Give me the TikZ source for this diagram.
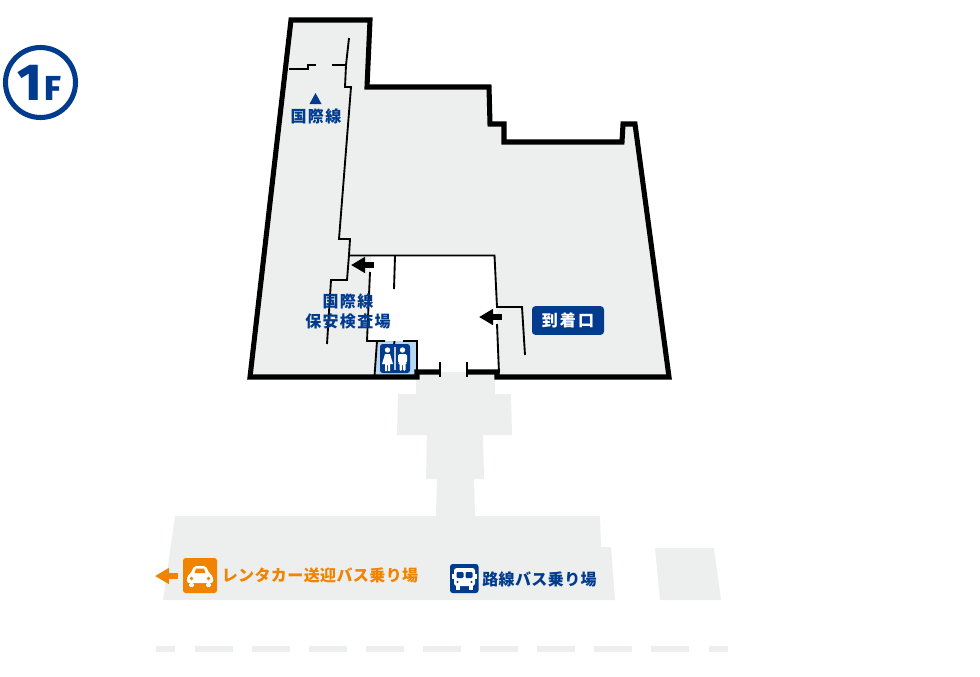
\documentclass[tikz,border=0pt]{standalone}
\usepackage{fontspec}
\usepackage{xcolor}
\usetikzlibrary{arrows.meta, positioning}
\newfontfamily\jpfont[LetterSpace=8]{Noto Sans CJK JP}
\newfontfamily\jpwide[LetterSpace=13]{Noto Sans CJK JP}
\newfontfamily\jptight[LetterSpace=2.5]{Noto Sans CJK JP}
\newfontfamily\numfont{Fira Sans ExtraBold}
\definecolor{floorgray}{HTML}{EDEFEF}
\definecolor{mapblue}{HTML}{003B8E}
\definecolor{maporange}{HTML}{F08300}
\definecolor{wcblue}{HTML}{B7D8F0}
\tikzset{
  wall/.style={line width=3.8pt, line join=miter, black},
  thin wall/.style={line width=1.4pt, black},
  gate/.style={line width=1.4pt, black},
  ground/.style={fill=floorgray, draw=none},
  goarrow/.style={line width=3.9pt, black, -{Triangle[length=10.5pt, width=11.5pt]}},
  jplabel/.style={font=\jpfont\fontsize{12}{15}\selectfont\bfseries, text=mapblue, align=center, inner sep=0pt},
  jpline/.style={font=\jptight\fontsize{12}{15}\selectfont\bfseries, text=mapblue, inner sep=0pt, anchor=west},
  iconbox/.style={rounded corners=2pt, fill=mapblue, draw=none}
}
\begin{document}
\begin{tikzpicture}[x=0.75pt, y=-0.75pt]
  \useasboundingbox (0,0) rectangle (980,676);

  % Sol
  \fill[ground] (291,20) -- (370,20) -- (367,87) -- (489,87) -- (490,124) -- (504,124) -- (504,142)
    -- (622,142) -- (623,124) -- (635,124) -- (669,377) -- (250,377) -- cycle;
  \fill[white] (371,256) -- (495,256) -- (498,372) -- (417,372) -- (417,341) -- (367,341) -- cycle;
  \fill[ground] (416,372) -- (495,372) -- (495,394) -- (511,394) -- (512,435) -- (483,435) -- (484,479)
    -- (474,479) -- (475,516) -- (600,516) -- (601,547) -- (611,547) -- (615,600) -- (163,600)
    -- (175,516) -- (436,516) -- (437,479) -- (426,479) -- (427,435) -- (397,435) -- (398,394)
    -- (416,394) -- cycle;
  \fill[ground] (655,548) -- (714,548) -- (721,600) -- (660,600) -- cycle;
  \fill[white] (250,379.5) rectangle (416,394);
  \fill[white] (496,379.5) rectangle (670,394);

  % Bandes
  \foreach \xa/\xb in {156/175,195/233,252/290,309/347,366/404,423/461,480/518,537/575,594/632,651/689,709/728}
    \fill[ground] (\xa,646) rectangle (\xb,652);

  % Toilettes
  \fill[wcblue] (378,341) -- (417,341) -- (417,376) -- (375,376) -- cycle;

  % Cloisons
  \draw[thin wall] (349,38) -- (346,65) -- (345,87) -- (351,87) -- (339,239) -- (350,239) -- (349,255)
    -- (347,280) -- (331,280) -- (327,344);
  \draw[thin wall] (289,69) -- (308,69) -- (308,65) -- (316,65);
  \draw[thin wall] (332,65) -- (346,65);
  \draw[thin wall] (349,255.5) -- (494.5,255.5) -- (497,307) -- (522,307) -- (525,355);
  \draw[thin wall] (395,256) -- (394,289);
  \draw[thin wall] (370,272) -- (367,341) -- (385,341);
  \draw[thin wall] (403,341) -- (417,341) -- (417,372);
  \draw[thin wall] (377,341) -- (374.5,376);
  \draw[thin wall] (394.5,341) -- (394,345);
  \draw[thin wall] (497,324) -- (499,373);

  % Murs
  \draw[wall] (440,372) -- (417,372) -- (417,377) -- (250,377) -- (291,20) -- (370,20) -- (367,87)
    -- (489,87) -- (490,124) -- (504,124) -- (504,142) -- (622,142) -- (623,124) -- (635,124)
    -- (669,377) -- (497,377) -- (497,372) -- (467,372);
  \draw[gate] (440,362) -- (440,377);
  \draw[gate] (467,362) -- (467,377);

  % Sens de circulation
  \coordinate (hallA) at (374,265);
  \coordinate (hallB) at (351,265);
  \coordinate (arrivalA) at (502,317);
  \coordinate (arrivalB) at (479,317);
  \draw[goarrow] (hallA) -- (hallB);
  \draw[goarrow] (arrivalA) -- (arrivalB);
  \coordinate (rentA) at (178,576);
  \coordinate (rentB) at (155,576);
  \draw[goarrow, maporange] (rentA) -- (rentB);

  % Etage
  \node[circle, draw=mapblue, line width=3.8pt, minimum size=52.5pt, inner sep=0pt] (floor) at (40.5,82.5) {};
  \node[font=\numfont\fontsize{39}{39}\selectfont, text=mapblue, inner sep=0pt, anchor=base] (floorN) at (30,100) {1};
  \node[font=\numfont\fontsize{26}{26}\selectfont, text=mapblue, inner sep=0pt, anchor=base] (floorF) at (53,100) {F};

  % Etiquettes
  \fill[mapblue] (315.5,93) -- (321.5,104) -- (309.5,104) -- cycle;
  \node[jplabel] (intl) at (316,116) {国際線};
  \node[jplabel] (security) at (348,311.5) {国際線\\保安検査場};
  \node[fill=mapblue, rounded corners=2.5pt, minimum width=54pt, minimum height=21.5pt, inner sep=0pt,
    font=\jpwide\fontsize{12}{15}\selectfont\bfseries, text=white] (arrival) at (568,320.5) {到着口};
  \node[jpline, text=maporange] (rentcar) at (221.5,575) {レンタカー送迎バス乗り場};
  \node[jpline] (busstop) at (482,579) {路線バス乗り場};

  % Pictogramme toilettes
  \fill[iconbox] (380,344) rectangle (410,373);
  \draw[white!75!mapblue, line width=0.9pt] (395,347) -- (395,370);
  \fill[white] (387.5,350) circle (2.7);
  \fill[white] (385,354) -- (390,354) -- (393,364) -- (390,364) -- (390,371) -- (388,371) -- (388,365)
    -- (387,365) -- (387,371) -- (385,371) -- (385,364) -- (382,364) -- cycle;
  \fill[white] (402.5,350) circle (2.7);
  \fill[white, rounded corners=1pt] (398,354) -- (407,354) -- (407,363) -- (405.5,363) -- (405.5,371)
    -- (403,371) -- (403,364) -- (402,364) -- (402,371) -- (399.5,371) -- (399.5,363) -- (398,363) -- cycle;

  % Pictogramme voiture
  \fill[maporange, rounded corners=2pt] (183,558) rectangle (217,593);
  \fill[white, rounded corners=1.5pt] (187,583) -- (187,576) -- (191,573) -- (194,566) -- (206,566)
    -- (209,573) -- (213,576) -- (213,583) -- cycle;
  \fill[white, rounded corners=1pt] (189,583) rectangle (194,587);
  \fill[white, rounded corners=1pt] (206,583) rectangle (211,587);
  \fill[maporange] (194.5,573) -- (196,568.5) -- (204,568.5) -- (205.5,573) -- cycle;
  \fill[maporange] (191.5,578.5) circle (1.8);
  \fill[maporange] (208.5,578.5) circle (1.8);

  % Pictogramme bus
  \fill[iconbox] (450,564) rectangle (478.5,593);
  \fill[white, rounded corners=2pt] (454,568) rectangle (475,586);
  \fill[white] (452,574) rectangle (477,579);
  \fill[white] (456,586) rectangle (460,590);
  \fill[white] (469,586) rectangle (473,590);
  \fill[mapblue, rounded corners=0.8pt] (456.5,572) rectangle (463.5,578);
  \fill[mapblue, rounded corners=0.8pt] (465.5,572) rectangle (472.5,578);
  \fill[mapblue] (457.5,582) circle (1.1);
  \fill[mapblue] (471.5,582) circle (1.1);
\end{tikzpicture}
\end{document}
